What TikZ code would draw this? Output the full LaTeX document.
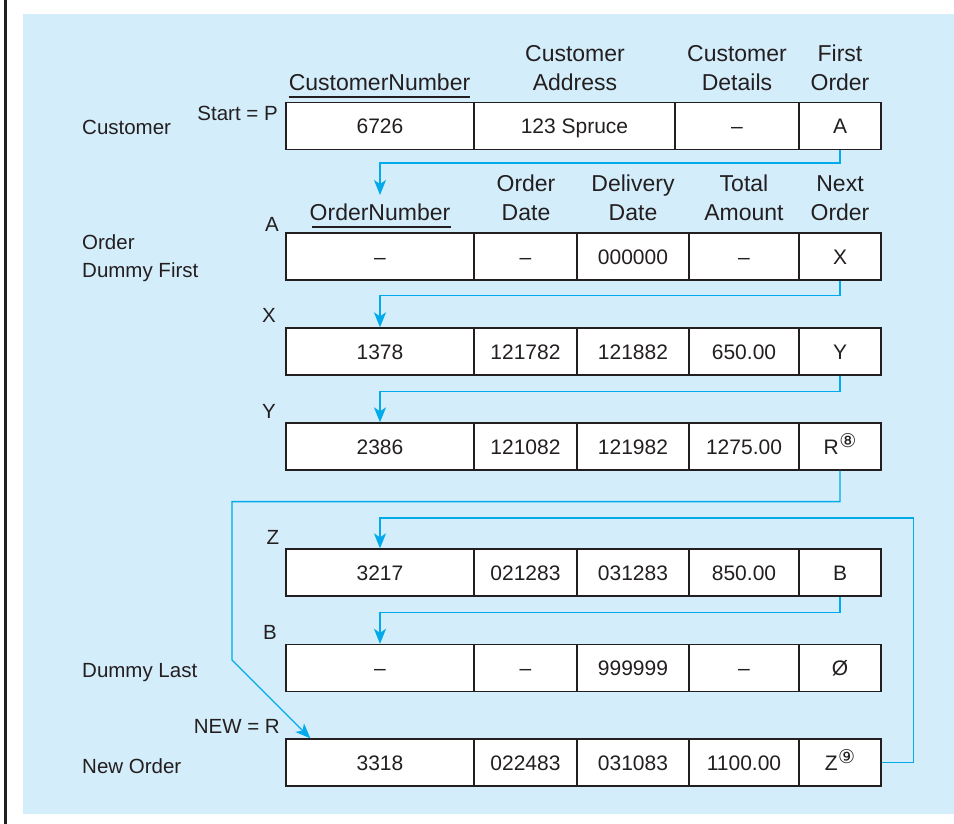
\documentclass[tikz,border=0pt]{standalone}
\usepackage{fontspec}
\setmainfont{Liberation Sans}
\newfontfamily\dejavu{DejaVu Sans}
\usetikzlibrary{arrows.meta,calc}
\definecolor{bgblue}{RGB}{212,237,250}
\definecolor{arrowcyan}{RGB}{0,170,235}
\definecolor{ink}{RGB}{35,31,32}
\newcommand\circsup[1]{\kern0.5pt\raisebox{6.5pt}{\fontsize{19}{19}\dejavu #1}}
\newcommand\orderrow[7]{%
  \node[cell,minimum width=188pt] (#1a) at (380,#2) {#3};
  \node[cell,minimum width=103pt] (#1b) at (525.5,#2) {#4};
  \node[cell,minimum width=112pt] (#1c) at (633,#2) {#5};
  \node[cell,minimum width=110pt] (#1d) at (744,#2) {#6};
  \node[cell,minimum width=82pt] (#1e) at (840,#2) {#7};}
\begin{document}
\begin{tikzpicture}[x=1pt,y=-1pt,
  cell/.style={draw=ink, line width=1.3pt, fill=white, inner sep=0pt,
    minimum height=47pt, text height=15pt, text depth=0pt,
    font=\fontsize{21}{25}\selectfont, text=ink},
  head/.style={inner sep=0pt, anchor=south, align=center,
    font=\fontsize{23}{29}\selectfont, text=ink},
  lbl/.style={inner sep=0pt, font=\fontsize{20.5}{27}\selectfont, text=ink},
  arr/.style={draw=arrowcyan, line width=1.4pt,
    -{Stealth[length=15pt,width=12pt,inset=4pt]}},
  uline/.style={draw=ink, line width=1.2pt}]
\useasboundingbox (0,0) rectangle (954,824);
\fill[bgblue] (23,14) rectangle (954,814);
\draw[ink, line width=2.5pt] (5.3,0) -- (5.3,824);

% Customer row
\node[cell,minimum width=188pt] (cua) at (380,126) {6726};
\node[cell,minimum width=201pt] (cub) at (574.5,126) {123 Spruce};
\node[cell,minimum width=124pt] (cuc) at (737,126) {--};
\node[cell,minimum width=82pt] (cud) at (840,126) {A};

% Customer headers
\node[head] (hcn) at (379.5,91) {CustomerNumber};
\draw[uline] ($(hcn.south west)+(0,6)$) -- ($(hcn.south east)+(0,6)$);
\node[head] (hca) at (575,91) {Customer\\Address};
\node[head] (hcd) at (737,91) {Customer\\Details};
\node[head] (hfo) at (840,91) {First\\Order};

% Order headers
\node[head] (hon) at (380,221) {OrderNumber};
\draw[uline] ($(hon.south west)+(2,6)$) -- ($(hon.south east)+(0,6)$);
\node[head] (hod) at (526,221) {Order\\Date};
\node[head] (hdd) at (633,221) {Delivery\\Date};
\node[head] (hta) at (744,221) {Total\\Amount};
\node[head] (hno) at (840,221) {Next\\Order};

% Order rows
\orderrow{d}{256.5}{--}{--}{000000}{--}{X}
\orderrow{x}{351.5}{1378}{121782}{121882}{650.00}{Y}
\orderrow{y}{446.5}{2386}{121082}{121982}{1275.00}{R\circsup{⑧}}
\orderrow{z}{572.5}{3217}{021283}{031283}{850.00}{B}
\orderrow{b}{668}{--}{--}{999999}{--}{Ø}
\orderrow{n}{762.5}{3318}{022483}{031083}{1100.00}{Z\circsup{⑨}}

% Left labels
\node[lbl, anchor=base west] (lcu) at (82,135) {Customer};
\node[lbl, anchor=base east] (lst) at (278,121) {Start = P};
\node[lbl, anchor=base] (la) at (272,232) {A};
\node[lbl, anchor=base west] (lor) at (82,250) {Order};
\node[lbl, anchor=base west] (ldf) at (82,277) {Dummy First};
\node[lbl, anchor=base] (lx) at (269,322) {X};
\node[lbl, anchor=base] (ly) at (269,418) {Y};
\node[lbl, anchor=base] (lz) at (273,544) {Z};
\node[lbl, anchor=base] (lb) at (270,639) {B};
\node[lbl, anchor=base west] (ldl) at (82,677) {Dummy Last};
\node[lbl, anchor=base east] (lnew) at (280,733) {NEW = R};
\node[lbl, anchor=base west] (lno) at (82,773) {New Order};

% connectors
\coordinate (tA) at (380,195);
\coordinate (bendR) at (232,660);
\coordinate (tN) at ($(na.north west)+(25,0)$);
\coordinate (loopZ) at (380,518);
\draw[arr] (cud.south) -- ++(0,13) -| (tA);
\draw[arr] (de.south) -- ++(0,15) -| (xa.north);
\draw[arr] (xe.south) -- ++(0,16) -| (ya.north);
\draw[arr] (ye.south) -- ++(0,31) -| (bendR) -- (tN);
\draw[arr] (ne.east) -- ++(32,0) |- (loopZ) -- (za.north);
\draw[arr] (ze.south) -- ++(0,16) -| (ba.north);
\end{tikzpicture}
\end{document}
